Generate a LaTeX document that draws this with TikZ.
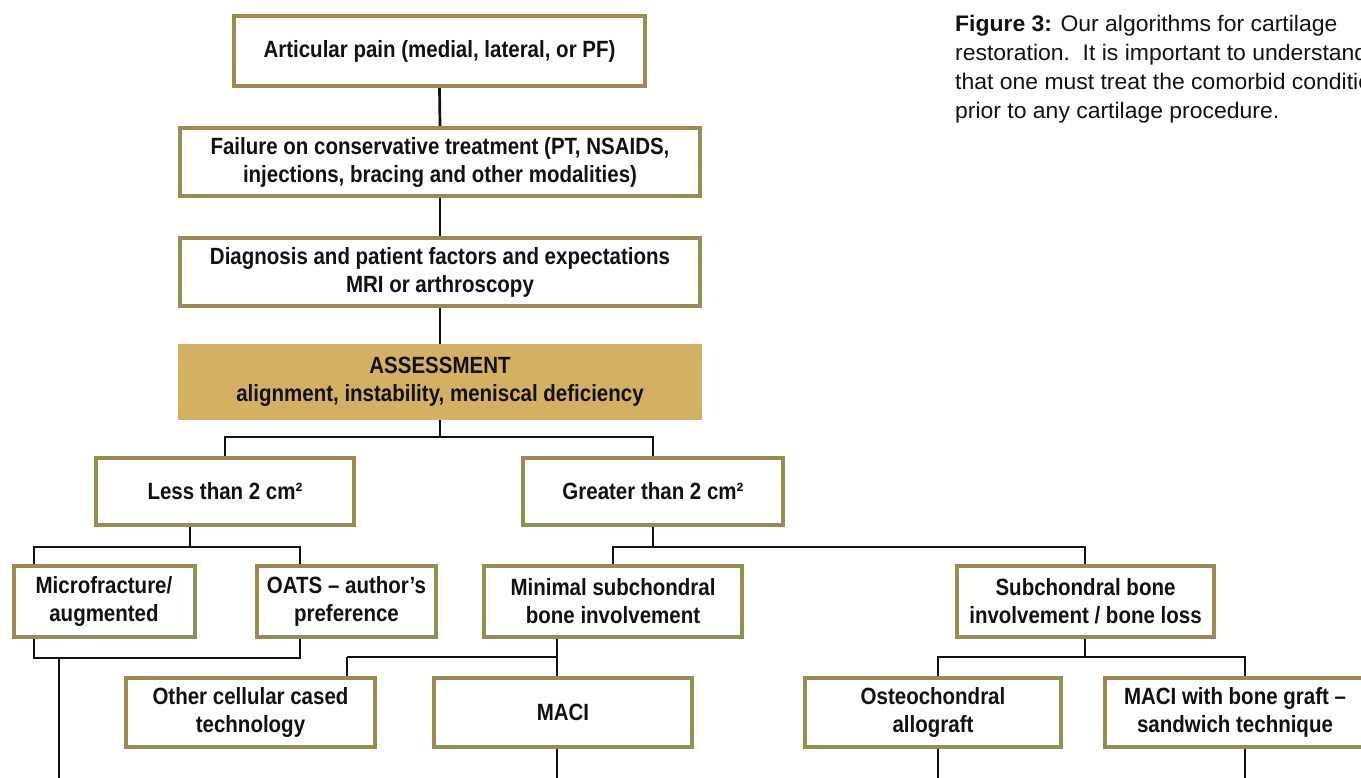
\documentclass[tikz,border=0pt]{standalone}
\usepackage{fontspec}
\setmainfont{Liberation Sans}
\newfontfamily\condfont[FakeStretch=0.872]{Liberation Sans}
\newfontfamily\capfont[FakeStretch=1.02]{Liberation Sans}
\definecolor{goldline}{HTML}{9C8B50}
\definecolor{goldfill}{HTML}{D4B063}
\definecolor{ink}{HTML}{111111}
\tikzset{
  stepbox/.style={draw=goldline, line width=4pt, fill=white, inner sep=0pt,
    align=center, text=ink, font=\condfont\bfseries\fontsize{23.5}{28}\selectfont},
  assessbox/.style={fill=goldfill, inner sep=0pt, align=center, text=ink,
    font=\condfont\bfseries\fontsize{23.5}{28}\selectfont},
  conn/.style={draw=ink, line width=2.7pt},
}
\begin{document}
\begin{tikzpicture}[x=1pt,y=-1pt]
\useasboundingbox (0,0) rectangle (1361,778);
\begin{scope}
\clip (0,0) rectangle (1361,778);
% boxes
\node[stepbox, minimum width=411, minimum height=70] (art) at (439.5,51) {Articular pain (medial, lateral, or PF)};
\node[stepbox, minimum width=520, minimum height=68] (fail) at (440,162) {Failure on conservative treatment (PT, NSAIDS,\\injections, bracing and other modalities)};
\node[stepbox, minimum width=520, minimum height=68] (diag) at (440,272) {Diagnosis and patient factors and expectations\\MRI or arthroscopy};
\node[assessbox, minimum width=524, minimum height=76] (assess) at (440,382) {ASSESSMENT\\alignment, instability, meniscal deficiency};
\node[stepbox, minimum width=258, minimum height=67] (less) at (225,491.5) {Less than 2 cm²};
\node[stepbox, minimum width=260, minimum height=67] (great) at (653,491.5) {Greater than 2 cm²};
\node[stepbox, minimum width=181, minimum height=71] (micro) at (104,601.5) {Microfracture/\\augmented};
\node[stepbox, minimum width=179, minimum height=71] (oats) at (346.5,601.5) {OATS – author’s\\preference};
\node[stepbox, minimum width=258, minimum height=71] (minimal) at (613,601.5) {Minimal subchondral\\bone involvement};
\node[stepbox, minimum width=257, minimum height=71] (sub) at (1085.5,601.5) {Subchondral bone\\involvement / bone loss};
\node[stepbox, minimum width=249, minimum height=69] (other) at (250.5,712.5) {Other cellular cased\\technology};
\node[stepbox, minimum width=258, minimum height=69] (maci) at (563,712.5) {MACI};
\node[stepbox, minimum width=256, minimum height=69] (osteo) at (933,712.5) {Osteochondral\\allograft};
\node[stepbox, minimum width=260, minimum height=69] (macib) at (1235,712.5) {MACI with bone graft –\\sandwich technique};
% caption
\node[anchor=north west, inner sep=0pt, align=left, text=ink,
      font=\capfont\fontsize{22.5}{29}\selectfont] (cap) at (955,14.5)
  {\textbf{Figure 3:} Our algorithms for cartilage\\
   restoration.\ \ It is important to understand\\
   that one must treat the comorbid conditions\\
   prior to any cartilage procedure.};
\end{scope}
% junction coordinates
\coordinate (jA) at (440,437);
\coordinate (jL) at (190,547);
\coordinate (jG) at (653,547);
\coordinate (jLa) at (34,547);
\coordinate (jLb) at (300,547);
\coordinate (jGa) at (613,547);
\coordinate (jGb) at (1085,547);
\coordinate (jMa) at (34,658);
\coordinate (jMb) at (300,658);
\coordinate (jMd) at (59,658);
\coordinate (jMend) at (59,778);
\coordinate (jN) at (557,657);
\coordinate (jNa) at (347,657);
\coordinate (jNend) at (557,778);
\coordinate (jS) at (1085,657);
\coordinate (jSa) at (938,657);
\coordinate (jSb) at (1245,657);
\coordinate (jOend) at (938,778);
\coordinate (jBend) at (1245,778);
% connectors
\draw[conn] (art.south) -- (fail.north);
\draw[conn] (fail.south) -- (diag.north);
\draw[conn] (diag.south) -- (assess.north);
\draw[conn] (assess.south) -- (jA);
\draw[conn] (less.north) |- (jA) -| (great.north);
\draw[conn] (less.south -| jL) -- (jL);
\draw[conn] (micro.north -| jLa) -- (jLa) -- (jLb) -- (oats.north -| jLb);
\draw[conn] (great.south) -- (jG);
\draw[conn] (minimal.north -| jGa) -- (jGa) -- (jGb) -- (sub.north -| jGb);
\draw[conn] (micro.south -| jMa) -- (jMa) -- (jMb) -- (oats.south -| jMb);
\draw[conn] (jMd) -- (jMend);
\draw[conn] (minimal.south -| jN) -- (maci.north -| jN);
\draw[conn] (jNa) -- (jN);
\draw[conn] (jNa) -- (other.north -| jNa);
\draw[conn] (maci.south -| jN) -- (jNend);
\draw[conn] (sub.south -| jS) -- (jS);
\draw[conn] (osteo.north -| jSa) -- (jSa) -- (jSb) -- (macib.north -| jSb);
\draw[conn] (osteo.south -| jSa) -- (jOend);
\draw[conn] (macib.south -| jSb) -- (jBend);
\end{tikzpicture}
\end{document}
